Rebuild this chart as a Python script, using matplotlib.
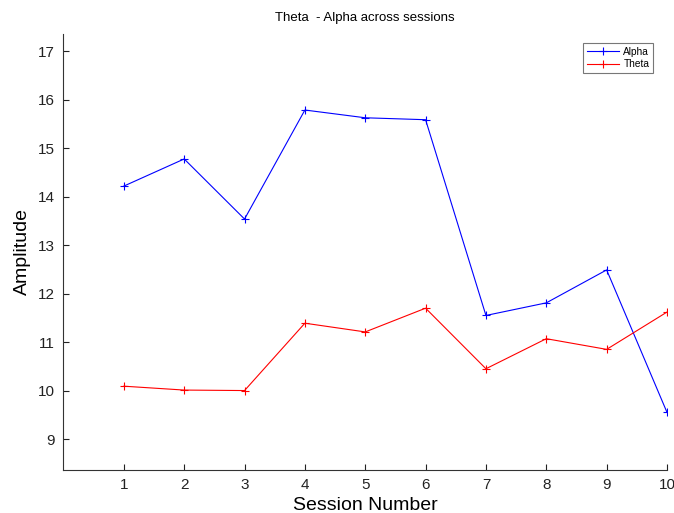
import matplotlib
matplotlib.use("Agg")
import matplotlib.pyplot as plt

plt.rcParams['font.family'] = ['Liberation Sans', 'DejaVu Sans']

sessions = [1, 2, 3, 4, 5, 6, 7, 8, 9, 10]
alpha = [14.22, 14.78, 13.54, 15.79, 15.63, 15.59, 11.55, 11.81, 12.49, 9.55]
theta = [10.09, 10.01, 10.0, 11.39, 11.21, 11.70, 10.45, 11.07, 10.85, 11.62]
y_ticks = [9, 10, 11, 12, 13, 14, 15, 16, 17]

fig = plt.figure(figsize=(6.74, 5.13), dpi=100)
ax = fig.add_axes([0.0942, 0.0838, 0.8954, 0.85])

ax.plot(sessions, alpha, color='#0000ff', marker='+', markersize=6, mew=0.8, lw=0.8, label='Alpha')
ax.plot(sessions, theta, color='#ff0000', marker='+', markersize=6, mew=0.8, lw=0.8, label='Theta')

ax.set_xlim(0, 10)
ax.set_ylim(8.36, 17.36)
ax.set_xticks(sessions)
ax.set_yticks(y_ticks)
ax.tick_params(direction='in', length=4, width=0.8, labelsize=11, pad=6, colors='#222222')

ax.spines['top'].set_visible(False)
ax.spines['right'].set_visible(False)
for s in ('left', 'bottom'):
    ax.spines[s].set_linewidth(0.8)
    ax.spines[s].set_color('#333333')

ax.set_title('Theta  - Alpha across sessions', fontsize=9.5, pad=9)
ax.set_xlabel('Session Number', fontsize=14, labelpad=3)
ax.set_ylabel('Amplitude', fontsize=14, labelpad=5)

leg = ax.legend(loc='upper right', bbox_to_anchor=(0.985, 0.99), fontsize=7.3,
                fancybox=False, edgecolor='#555555', handlelength=3.2,
                borderpad=0.35, labelspacing=0.25, handletextpad=0.4)
leg.get_frame().set_linewidth(0.8)

fig.savefig('out.png', dpi=100)
